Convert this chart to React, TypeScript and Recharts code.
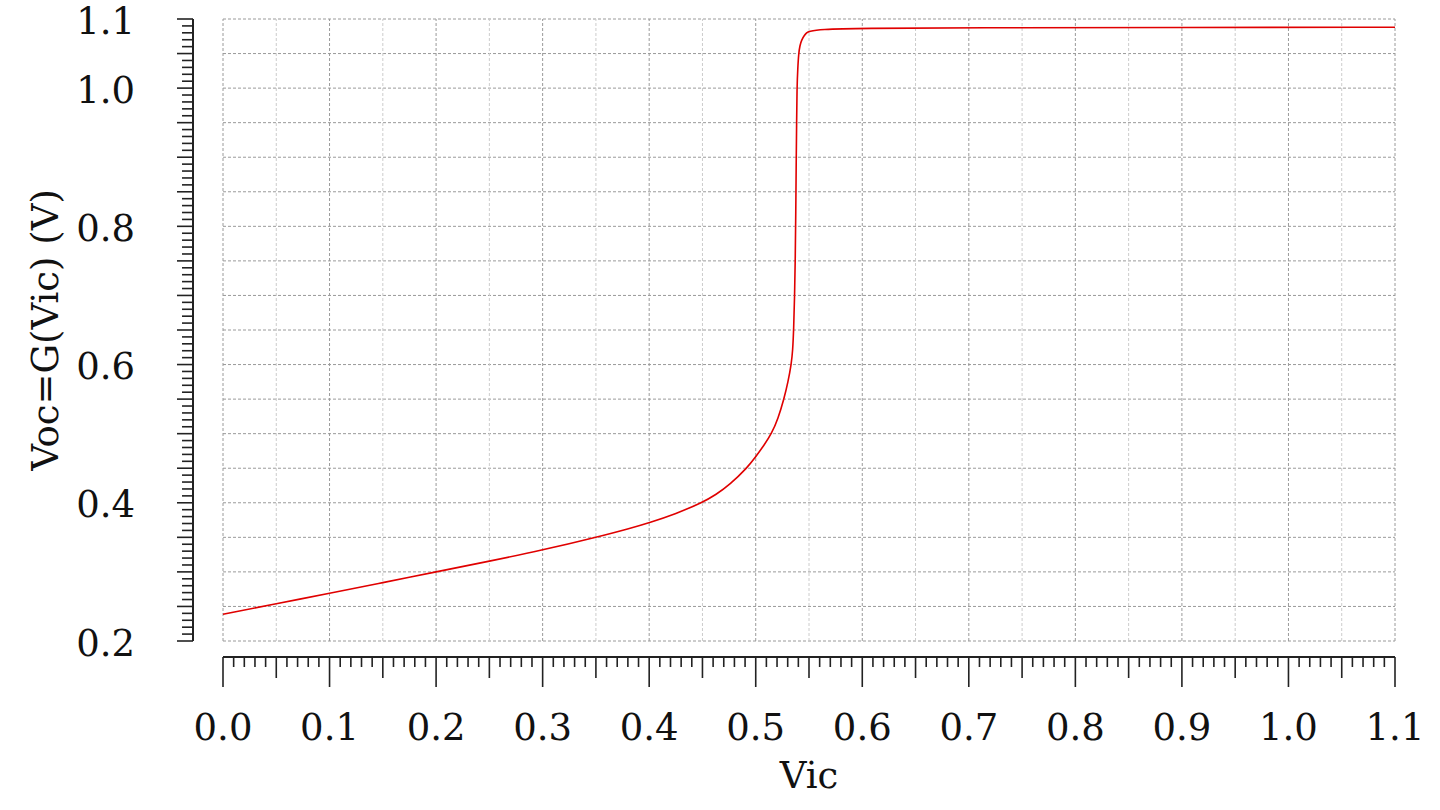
import React from 'react';
import { LineChart, Line, XAxis, YAxis, ReferenceLine, Label } from 'recharts';

// ---- data ----
const VIC = [0, 0.05, 0.1, 0.15, 0.2, 0.25, 0.3, 0.35, 0.382, 0.4, 0.425, 0.4502, 0.4627, 0.4758, 0.4921, 0.5002, 0.5077, 0.515, 0.5209, 0.5265, 0.5303, 0.5334, 0.5347, 0.5356, 0.5365, 0.5371, 0.5376, 0.538, 0.5384, 0.5387, 0.5395, 0.5403, 0.5415, 0.5431, 0.5455, 0.5478, 0.55, 0.5603, 0.5978, 0.7, 0.9, 1.1];
const VOC = [0.2386, 0.254, 0.269, 0.2845, 0.3, 0.3155, 0.3315, 0.35, 0.363, 0.3712, 0.384, 0.4007, 0.4118, 0.4265, 0.4508, 0.467, 0.4829, 0.5005, 0.5215, 0.5502, 0.5745, 0.6008, 0.62, 0.65, 0.7, 0.75, 0.82, 0.896, 0.95, 1.0, 1.03, 1.05, 1.062, 1.0697, 1.076, 1.0803, 1.082, 1.085, 1.0866, 1.0873, 1.0878, 1.088];

const X_LABELS = [0.0, 0.1, 0.2, 0.3, 0.4, 0.5, 0.6, 0.7, 0.8, 0.9, 1.0, 1.1];
const Y_LABELS = [0.2, 0.4, 0.6, 0.8, 1.0, 1.1];
const X_DOMAIN = [0, 1.1];
const Y_DOMAIN = [0.2, 1.1];
const X_GRID = [0, 0.05, 0.1, 0.15, 0.2, 0.25, 0.3, 0.35, 0.4, 0.45, 0.5, 0.55, 0.6, 0.65, 0.7, 0.75, 0.8, 0.85, 0.9, 0.95, 1.0, 1.05, 1.1];
const Y_GRID = [0.2, 0.25, 0.3, 0.35, 0.4, 0.45, 0.5, 0.55, 0.6, 0.65, 0.7, 0.75, 0.8, 0.85, 0.9, 0.95, 1.0, 1.05, 1.1];
const X_TITLE = 'Vic';
const Y_TITLE = 'Voc=G(Vic) (V)';

// minor ticks every 0.01 (axis decoration)
const X_TICKS = Array.from({ length: 111 }, (_, i) => i / 100);
const Y_TICKS = Array.from({ length: 91 }, (_, i) => (i + 20) / 100);

const data = VIC.map((v, i) => ({ vic: v, voc: VOC[i] }));

// ---- layout ----
const W = 1440;
const H = 810;
const MARGIN = { top: 19, right: 45, bottom: 0, left: 0 };
const YAXIS_W = 223;
const XAXIS_H = 169;
const PLOT_W = W - MARGIN.left - MARGIN.right - YAXIS_W;
const PLOT_H = H - MARGIN.top - MARGIN.bottom - XAXIS_H;
const X_AXIS_GAP = 16;
const Y_AXIS_GAP = 30;
const FONT = '"DejaVu Serif", serif';
const FS = 37;
const AXIS_COLOR = '#222';

const isMult = (v: number, step: number) => Math.round(v * 100) % step === 0;
const fmt = (v: number) => v.toFixed(1);

const XTick = (props: any) => {
  const { x, y, payload, index } = props;
  const v = payload.value as number;
  const ay = y + X_AXIS_GAP;
  const len = isMult(v, 10) ? 30 : isMult(v, 5) ? 21 : 10;
  const labeled = X_LABELS.some((l) => Math.abs(l - v) < 1e-6);
  return (
    <g>
      {index === 0 && (
        <line x1={x} y1={ay} x2={x + PLOT_W} y2={ay} stroke={AXIS_COLOR} strokeWidth={2} />
      )}
      <line x1={x} y1={ay} x2={x} y2={ay + len} stroke={AXIS_COLOR} strokeWidth={1.6} />
      {labeled && (
        <text x={x} y={740} textAnchor="middle" fontFamily={FONT} fontSize={FS} fill="#111">
          {fmt(v)}
        </text>
      )}
    </g>
  );
};

const YTick = (props: any) => {
  const { x, y, payload, index } = props;
  const v = payload.value as number;
  const ax = x - Y_AXIS_GAP;
  const len = isMult(v, 5) ? 16 : 11;
  const labeled = Y_LABELS.some((l) => Math.abs(l - v) < 1e-6);
  return (
    <g>
      {index === 0 && (
        <line x1={ax} y1={y} x2={ax} y2={y - PLOT_H} stroke={AXIS_COLOR} strokeWidth={2} />
      )}
      <line x1={ax} y1={y} x2={ax - len} y2={y} stroke={AXIS_COLOR} strokeWidth={1.6} />
      {labeled && (
        <text x={x - 88} y={y + 14.5} textAnchor="end" fontFamily={FONT} fontSize={FS} fill="#111">
          {fmt(v)}
        </text>
      )}
    </g>
  );
};

const YTitle = (props: any) => {
  const vb = props.viewBox || { x: 0, y: MARGIN.top, width: YAXIS_W, height: PLOT_H };
  const px = vb.x + 58;
  const py = vb.y + vb.height / 2;
  return (
    <text
      x={px}
      y={py}
      transform={`rotate(-90, ${px}, ${py})`}
      textAnchor="middle"
      fontFamily={FONT}
      fontSize={FS}
      fill="#111"
    >
      {Y_TITLE}
    </text>
  );
};

const XTitle = (props: any) => {
  const vb = props.viewBox || { x: YAXIS_W, y: MARGIN.top + PLOT_H, width: PLOT_W, height: XAXIS_H };
  return (
    <text
      x={vb.x + vb.width / 2}
      y={vb.y + vb.height - 22}
      textAnchor="middle"
      fontFamily={FONT}
      fontSize={FS}
      fill="#111"
    >
      {X_TITLE}
    </text>
  );
};

export default function App() {
  return (
    <div style={{ position: 'absolute', left: 0, top: 0, width: W, height: H, background: '#fff' }}>
      <LineChart width={W} height={H} data={data} margin={MARGIN}>
        <XAxis
          dataKey="vic"
          type="number"
          domain={X_DOMAIN}
          ticks={X_TICKS}
          interval={0}
          height={XAXIS_H}
          axisLine={false}
          tickLine={false}
          tickSize={0}
          tickMargin={0}
          tick={<XTick />}
          allowDecimals
        >
          <Label content={<XTitle />} />
        </XAxis>
        <YAxis
          type="number"
          domain={Y_DOMAIN}
          ticks={Y_TICKS}
          interval={0}
          width={YAXIS_W}
          axisLine={false}
          tickLine={false}
          tickSize={0}
          tickMargin={0}
          tick={<YTick />}
          allowDataOverflow
        >
          <Label content={<YTitle />} />
        </YAxis>
        {Y_GRID.map((v) => (
          <ReferenceLine key={'h' + v} y={v} stroke="#9a9a9a" strokeDasharray="3 2" strokeWidth={1} />
        ))}
        {X_GRID.map((v) => (
          <ReferenceLine
            key={'v' + v}
            x={v}
            stroke={isMult(v, 10) ? '#9a9a9a' : '#cccccc'}
            strokeDasharray="3 2"
            strokeWidth={1}
          />
        ))}
        <Line
          type="basis"
          dataKey="voc"
          stroke="#e00000"
          strokeWidth={1.6}
          dot={false}
          activeDot={false}
          isAnimationActive={false}
        />
      </LineChart>
    </div>
  );
}
